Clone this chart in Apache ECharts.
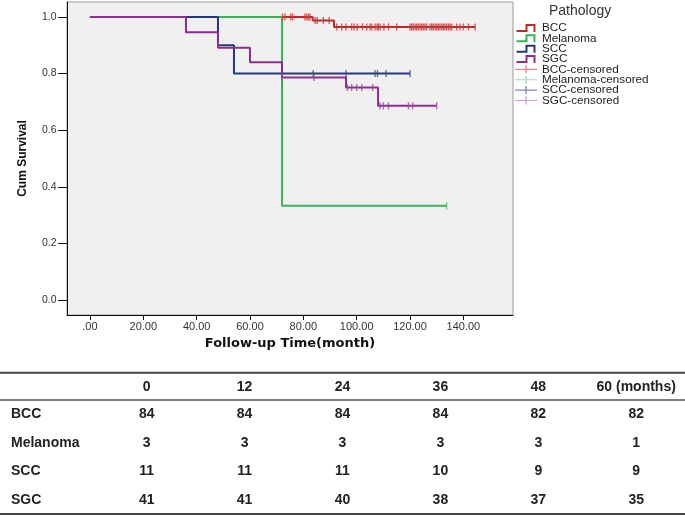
<!DOCTYPE html>
<html>
<head>
<meta charset="utf-8">
<script src="https://cdn.jsdelivr.net/npm/echarts@6/dist/echarts.min.js"></script>
<style>
html,body{margin:0;padding:0;background:#fff;}
#c{width:685px;height:517px;}
</style>
</head>
<body>
<div id="c"></div>
<script>
// ---- data ----
const timeTicks = [0, 20, 40, 60, 80, 100, 120, 140];
const survTicks = [0, 0.2, 0.4, 0.6, 0.8, 1.0];

const groups = ['BCC', 'Melanoma', 'SCC', 'SGC'];

const bccTime = [0, 83.5, 91.5, 144.4];
const bccSurv = [1, 0.988, 0.965, 0.965];
const bccCensor = [72.2, 73.1, 75.3, 76, 80.6, 81.3, 81.9, 82.5,
  84.4, 85.2, 87.5, 89.7,
  92.5, 94.4, 96, 98.1, 99, 100.2, 102.2, 103.8, 105, 105.6, 106.9, 107.7, 108.1, 108.8,
  110.2, 111.9, 115, 120, 120.6, 121.2, 121.9, 122.5, 123.1, 123.8, 124.4, 125, 125.6,
  126.2, 127.5, 128.1, 128.7, 129.4, 130, 130.6, 131.2, 131.9, 132.5, 133.1, 133.7,
  134.4, 135, 135.6, 137.5, 138.7, 140, 141.9, 144.4];

const melTime = [0, 72, 133.7];
const melSurv = [1, 0.333, 0.333];
const melCensor = [133.7];

const sccTime = [0, 48, 54, 120];
const sccSurv = [1, 0.9, 0.8, 0.8];
const sccCensor = [83.7, 96, 106.9, 107.8, 111, 120];

const sgcTime = [0, 36, 48, 60, 72, 96, 108, 130];
const sgcSurv = [1, 0.946, 0.891, 0.84, 0.786, 0.751, 0.686, 0.686];
const sgcCensor = [72, 84, 96.5, 98.1, 100, 101.9, 106, 108.7, 110, 111.9, 119.4, 121, 130];

// number at risk table
const riskCols = ['0', '12', '24', '36', '48', '60 (months)'];
const riskBCC = [84, 84, 84, 84, 82, 82];
const riskMel = [3, 3, 3, 3, 3, 1];
const riskSCC = [11, 11, 11, 10, 9, 9];
const riskSGC = [41, 41, 40, 38, 37, 35];

// ---- build ----
const lineColors = ['#bf2a2a', '#3db05a', '#26397a', '#8c2e8e'];
const censorColors = ['#c83a3a', '#4cba68', '#3a4c88', '#9c4a9e'];
const legendCensorColors = ['#e06a6a', '#8ad8a6', '#5a6a9c', '#c98ac9'];

const kmSets = [
  [bccTime, bccSurv, bccCensor],
  [melTime, melSurv, melCensor],
  [sccTime, sccSurv, sccCensor],
  [sgcTime, sgcSurv, sgcCensor]
];

function survAt(times, surv, t) {
  let s = surv[0];
  for (let i = 0; i < times.length; i++) { if (times[i] <= t) s = surv[i]; }
  return s;
}

const series = [];
kmSets.forEach((set, i) => {
  series.push({
    name: groups[i], type: 'line', step: 'end', showSymbol: false, symbol: 'none',
    data: set[0].map((t, k) => [t, set[1][k]]),
    lineStyle: { color: lineColors[i], width: 2 },
    itemStyle: { color: lineColors[i] },
    z: 2 + i, animation: false
  });
});
kmSets.forEach((set, i) => {
  series.push({
    name: groups[i] + '-censored', type: 'scatter', symbol: 'rect', symbolSize: [1.4, 7],
    data: set[2].map(t => [t, survAt(set[0], set[1], t)]),
    itemStyle: { color: censorColors[i] },
    z: 6 + i, animation: false
  });
});

const stepIcon = 'path://M0,6 L9,6 L9,0 L19,0 L19,8 L17,8 L17,2 L11,2 L11,8 L0,8 Z';
const censIcon = 'path://M0,3.5 L10.3,3.5 L10.3,0 L11.7,0 L11.7,3.5 L22,3.5 L22,4.6 L11.7,4.6 L11.7,8 L10.3,8 L10.3,4.6 L0,4.6 Z';
const legendData = [];
groups.forEach((g, i) => legendData.push({ name: g, icon: stepIcon, itemStyle: { color: lineColors[i] } }));
groups.forEach((g, i) => legendData.push({ name: g + '-censored', icon: censIcon, itemStyle: { color: legendCensorColors[i] } }));

// table graphics
const tFont = 'bold 14px "Liberation Sans", Arial, sans-serif';
const colX0 = 146.7, colDX = 97.9;
const headY = 386.7, rowY0 = 414.3, rowDY = 28.6;
const riskRows = [riskBCC, riskMel, riskSCC, riskSGC];
const graphics = [
  { type: 'text', left: 549, top: 4, style: { text: 'Pathology', fill: '#333', font: '14px "Liberation Sans", Arial, sans-serif' } },
  { type: 'line', shape: { x1: 0, y1: 372.7, x2: 685, y2: 372.7 }, style: { stroke: '#444', lineWidth: 2 } },
  { type: 'line', shape: { x1: 0, y1: 400, x2: 685, y2: 400 }, style: { stroke: '#555', lineWidth: 1.5 } },
  { type: 'line', shape: { x1: 0, y1: 514, x2: 685, y2: 514 }, style: { stroke: '#444', lineWidth: 2 } }
];
riskCols.forEach((c, j) => {
  graphics.push({ type: 'text', x: colX0 + j * colDX, y: headY, style: { text: c, fill: '#222', font: tFont, align: 'center', verticalAlign: 'middle' } });
});
groups.forEach((g, i) => {
  const y = rowY0 + i * rowDY;
  graphics.push({ type: 'text', x: 11, y: y, style: { text: g, fill: '#222', font: tFont, align: 'left', verticalAlign: 'middle' } });
  riskRows[i].forEach((v, j) => {
    graphics.push({ type: 'text', x: colX0 + j * colDX, y: y, style: { text: String(v), fill: '#222', font: tFont, align: 'center', verticalAlign: 'middle' } });
  });
});

const chart = echarts.init(document.getElementById('c'), null, { renderer: 'canvas' });
chart.setOption({
  animation: false,
  backgroundColor: '#ffffff',
  textStyle: { fontFamily: '"Liberation Sans", Arial, sans-serif' },
  grid: { left: 67, top: 2, width: 446, height: 313, show: true, backgroundColor: '#f0f0f0', borderColor: '#9a9a9a', borderWidth: 1 },
  legend: {
    data: legendData, orient: 'vertical', left: 515, top: 22,
    itemWidth: 22, itemHeight: 8, itemGap: -1.66, itemTextGap: 0, padding: 0,
    textStyle: { fontSize: 11.7, color: '#222', lineHeight: 8, fontFamily: '"Liberation Sans", Arial, sans-serif' },
    selectedMode: false
  },
  xAxis: {
    type: 'value', min: -8.6, max: 158.6,
    name: 'Follow-up Time(month)', nameLocation: 'middle', nameGap: 21,
    nameTextStyle: { fontFamily: '"DejaVu Sans", sans-serif', fontWeight: 'bold', fontSize: 13, color: '#111' },
    axisLine: { show: true, onZero: false, lineStyle: { color: '#111', width: 1 } },
    axisTick: { show: true, length: 5, customValues: timeTicks, lineStyle: { color: '#111' } },
    axisLabel: { customValues: timeTicks, margin: 6, fontSize: 11, color: '#333',
      formatter: v => v === 0 ? '.00' : v.toFixed(2) },
    splitLine: { show: false }
  },
  yAxis: {
    type: 'value', min: -0.053, max: 1.053,
    name: 'Cum Survival', nameLocation: 'middle', nameGap: 38, nameRotate: 90,
    nameTextStyle: { fontWeight: 'bold', fontSize: 12, color: '#111' },
    axisLine: { show: true, onZero: false, lineStyle: { color: '#111', width: 1 } },
    axisTick: { show: true, length: 9, customValues: survTicks, lineStyle: { color: '#111' } },
    axisLabel: { customValues: survTicks, margin: 10.5, fontSize: 10.5, color: '#333',
      formatter: v => v.toFixed(1) },
    splitLine: { show: false }
  },
  series: series,
  graphic: graphics
});
</script>
</body>
</html>
